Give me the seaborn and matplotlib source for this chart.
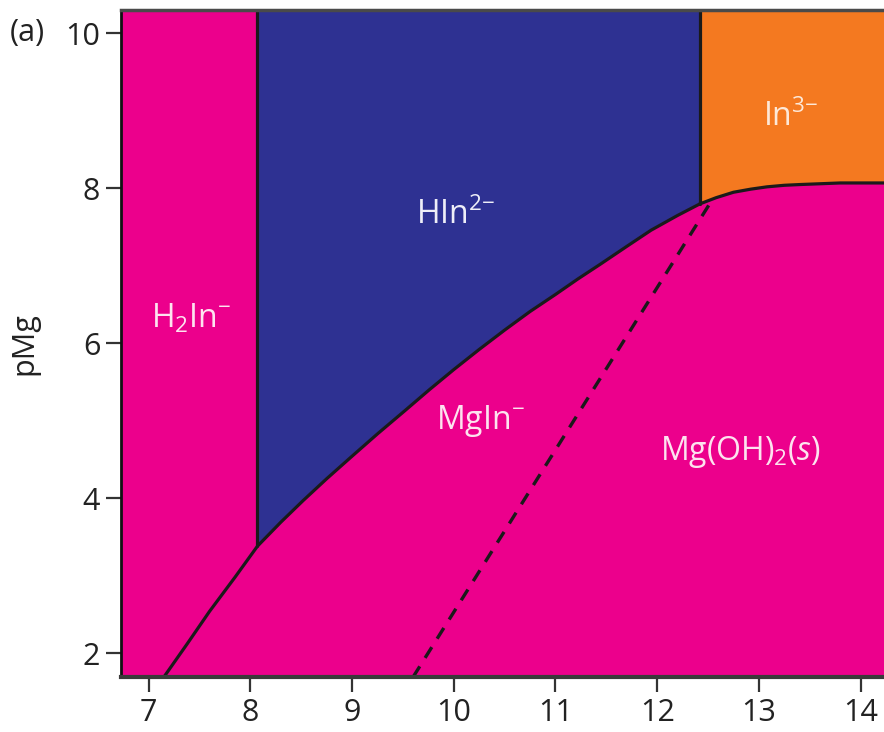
import matplotlib
matplotlib.use("Agg")
import matplotlib.pyplot as plt
import numpy as np
import pandas as pd
import seaborn as sns

# boundary MgIn- / free indicator
curve_x = [7.15, 7.38, 7.60, 7.85, 8.07, 8.30, 8.52, 8.75, 8.99, 9.25, 9.52, 9.76,
           10.00, 10.25, 10.50, 10.75, 11.00, 11.22, 11.44, 11.70, 11.94, 12.20, 12.42]
curve_y = [1.69, 2.12, 2.54, 2.98, 3.38, 3.69, 3.97, 4.25, 4.53, 4.83, 5.13, 5.40,
           5.66, 5.92, 6.17, 6.41, 6.63, 6.83, 7.02, 7.25, 7.46, 7.65, 7.80]

# boundary In3- / Mg(OH)2(s)
in3_x = [12.42, 12.58, 12.75, 12.92, 13.08, 13.25, 13.41, 13.80, 14.23]
in3_y = [7.80, 7.88, 7.95, 7.99, 8.02, 8.04, 8.05, 8.07, 8.07]

# dashed line
dash_x = [9.60, 12.53]
dash_y = [1.69, 7.83]

pka2, pka3 = 8.07, 12.42

labels = [r"$\mathrm{H_2In^{-}}$", r"$\mathrm{HIn^{2{-}}}$", r"$\mathrm{In^{3{-}}}$",
          r"$\mathrm{MgIn^{-}}$", r"$\mathrm{Mg(OH)_2}\mathit{(s)}$"]
label_x = [7.42, 10.02, 13.31, 10.26, 12.82]
label_y = [6.32, 7.65, 8.92, 5.00, 4.60]
label_col = ["#FDE3EF", "#EEEEF8", "#FDE8D8", "#FDE3EF", "#FDE3EF"]

MAGENTA, BLUE, ORANGE = "#EC008C", "#2E3192", "#F47920"
XLIM, YLIM = (6.73, 14.23), (1.69, 10.30)

sns.set_theme(style="ticks")
plt.rcParams.update({
    "font.family": ["Open Sans", "DejaVu Sans"],
    "mathtext.fontset": "custom", "mathtext.rm": "Open Sans",
    "mathtext.it": "Open Sans:italic", "mathtext.bf": "Open Sans:bold",
})

fig = plt.figure(figsize=(8.84, 7.32), dpi=100)
ax = fig.add_axes([0.137, 0.075, 0.863, 0.911])
ax.set_facecolor(MAGENTA)

cx, cy = np.array(curve_x), np.array(curve_y)
m = cx >= pka2
ax.fill_between(cx[m], cy[m], YLIM[1], color=BLUE, lw=0)
ax.fill_between(in3_x, in3_y, YLIM[1], color=ORANGE, lw=0)

line_kw = dict(color="#1a1a1a", lw=2.3, solid_joinstyle="round", solid_capstyle="round")
df = pd.DataFrame({"x": curve_x, "y": curve_y})
sns.lineplot(data=df, x="x", y="y", ax=ax, **line_kw)
sns.lineplot(x=in3_x, y=in3_y, ax=ax, **line_kw)
sns.lineplot(x=dash_x, y=dash_y, ax=ax, color="#1a1a1a", lw=2.4,
             linestyle=(0, (3.8, 3.0)))
ax.plot([pka2, pka2], [cy[cx == pka2][0], YLIM[1]], **line_kw)
ax.plot([pka3, pka3], [in3_y[0], YLIM[1]], **line_kw)

for t, x, y, c in zip(labels, label_x, label_y, label_col):
    ax.text(x, y, t, color=c, fontsize=23, ha="center", va="center")

ax.set_xlim(XLIM)
ax.set_ylim(YLIM)
ax.set_xticks(range(7, 15))
ax.set_yticks(range(2, 11, 2))
ax.set_xlabel("")
ax.set_ylabel("pMg", fontsize=22, color="#222")
ax.yaxis.set_label_coords(-0.107, 0.5)
ax.tick_params(direction="out", length=11, width=1.6, color="#333",
               labelsize=22, labelcolor="#222", pad=4)

ax.spines["right"].set_visible(False)
ax.spines["left"].set_linewidth(2)
ax.spines["left"].set_color("#111")
ax.spines["top"].set_linewidth(2.5)
ax.spines["top"].set_color("#4a4a4a")
ax.spines["bottom"].set_linewidth(3)
ax.spines["bottom"].set_color("#3a3a3a")

fig.text(0.011, 0.955, "(a)", fontsize=22, color="#222", ha="left", va="center")

fig.savefig("out.png", dpi=100, facecolor="white")
